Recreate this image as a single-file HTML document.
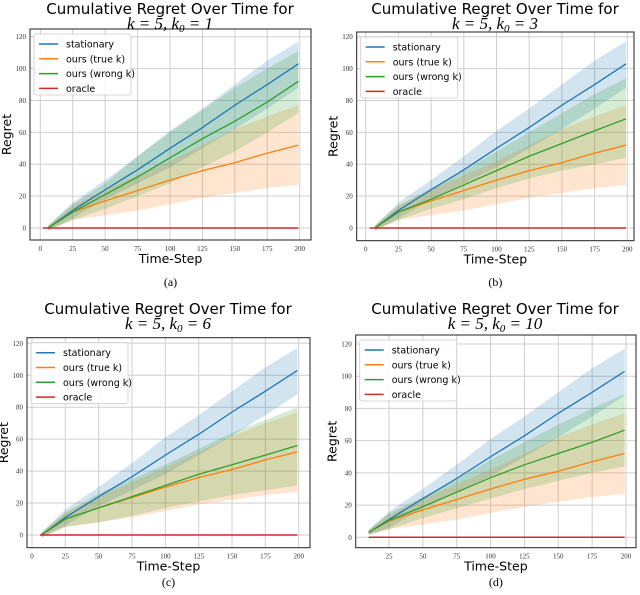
<!DOCTYPE html>
<html><head><meta charset="utf-8">
<style>
body{margin:0;background:#fff;}
svg{display:block;}
.tick{font-family:"Liberation Serif",serif;font-size:7px;fill:#333;}
.ttl{font-family:"DejaVu Sans",sans-serif;font-size:15px;fill:#000;}
.mth{font-family:"Liberation Serif",serif;font-style:italic;font-size:17px;fill:#000;}
.lab{font-family:"DejaVu Sans",sans-serif;font-size:12.5px;fill:#000;}
.leg{font-family:"DejaVu Sans",sans-serif;font-size:9.5px;fill:#000;}
.cap{font-family:"Liberation Serif",serif;font-size:12px;fill:#000;}
</style></head>
<body>
<svg id="fig" width="640" height="595" viewBox="0 0 640 595" xmlns="http://www.w3.org/2000/svg"></svg>
<script>
// ---- data ----
const timeSteps = [25, 50, 75, 100, 125, 150, 175, 199];
const stationaryMean = [11, 24, 36.5, 50, 63, 77, 90, 103];
const stationaryUpper = [16, 30, 45, 61, 75, 90, 105, 117];
const stationaryLower = [6, 18, 28, 38, 50, 62, 75, 88];
const trueKMean = [10, 17, 23.5, 30, 36, 41, 47, 52];
const trueKUpper = [14, 24, 33, 42, 52, 62, 70, 77];
const trueKLower = [5, 8, 11, 15, 19, 22, 25, 27];
const wrongKMeanA = [10, 21, 32, 44, 56, 67, 79, 92];
const wrongKUpperA = [15, 28, 45, 60, 74, 88, 100, 111];
const wrongKLowerA = [5, 12, 20, 28, 38, 48, 60, 72];
const wrongKMeanB = [10, 18, 27, 36, 45, 53, 61, 68.5];
const wrongKUpperB = [14, 25, 36, 48, 60, 72, 84, 94];
const wrongKLowerB = [5, 12, 18, 25, 31, 36, 40, 44];
const wrongKMeanC = [10, 17, 24, 31, 38, 44, 50, 56];
const wrongKUpperC = [14, 26, 35, 44, 54, 64, 72, 80];
const wrongKLowerC = [5, 8, 12, 17, 21, 25, 28, 31];
const wrongKMeanD = [10.5, 19, 28, 37, 45, 52, 59, 66.5];
const wrongKUpperD = [15, 25, 36, 48, 59, 70, 80, 89];
const wrongKLowerD = [5, 12, 18, 24, 30, 35, 40, 44];
const startSteps = [6, 7, 7, 10];
const startValues = [0, 0, 0, 3];
const panelLabels = ["a", "b", "c", "d"];
const k0Values = ["1", "3", "6", "10"];
const xTicks = [0, 25, 50, 75, 100, 125, 150, 175, 200];
const yTicks = [0, 20, 40, 60, 80, 100, 120];
const seriesNames = ["stationary", "ours (true k)", "ours (wrong k)", "oracle"];

// ---- layout ----
const panels = [
 {box:[30,29,311,240], x0:40.3, x200:299.7, y0:228, y120:36.7, redStart:2, cx:170, ty:0},
 {box:[356.7,32,634,240.7], x0:365.7, x200:627.3, y0:228, y120:36.7, redStart:3, cx:495, ty:0},
 {box:[27,337.7,310,547.7], x0:32, x200:298.7, y0:535, y120:343.3, redStart:6, cx:168, ty:300},
 {box:[355.7,335,636,547.7], x0:355.1, x200:626, y0:537.3, y120:344, redStart:10, cx:495, ty:300}
];
const wrongSets = [[wrongKMeanA,wrongKUpperA,wrongKLowerA],[wrongKMeanB,wrongKUpperB,wrongKLowerB],[wrongKMeanC,wrongKUpperC,wrongKLowerC],[wrongKMeanD,wrongKUpperD,wrongKLowerD]];
const colors = ["#1f77b4","#ff7f0e","#2ca02c","#d62728"];
const NS = "http://www.w3.org/2000/svg";
const svg = document.getElementById("fig");
function mk(tag, attrs, parent){const e=document.createElementNS(NS,tag);for(const k in attrs)e.setAttribute(k,attrs[k]);(parent||svg).appendChild(e);return e;}

panels.forEach((p,i)=>{
  const g = mk("g",{});
  
  
  const X = t => p.x0 + (p.x200-p.x0)*t/200;
  const Y = v => p.y0 + (p.y120-p.y0)*v/120;
  const [bl,bt,br,bb] = p.box;
  xTicks.forEach(t=>{ if(i===3 && t===0) return;
    const l=mk("line",{x1:X(t),x2:X(t),y1:bt,y2:bb,stroke:"#cfcfcf","stroke-width":1},g);
    
    
    const tx=mk("text",{x:X(t),y:bb+11,"text-anchor":"middle",class:"tick"},g); tx.textContent=t;
    
    
  });
  yTicks.forEach(v=>{
    const l=mk("line",{x1:bl,x2:br,y1:Y(v),y2:Y(v),stroke:"#cfcfcf","stroke-width":1},g);
    
    
    const tx=mk("text",{x:bl-4,y:Y(v)+2.5,"text-anchor":"end",class:"tick"},g); tx.textContent=v;
    
    
  });
  const series = [[stationaryMean,stationaryUpper,stationaryLower],[trueKMean,trueKUpper,trueKLower],wrongSets[i]];
  const ts=[startSteps[i]].concat(timeSteps);
  series.forEach((s,si)=>{
    const up=[startValues[i]+1.5].concat(s[1]), lo=[startValues[i]-1.5].concat(s[2]);
    let d="M"+ts.map((t,j)=>X(t)+","+Y(up[j])).join(" L");
    d+=" L"+ts.slice().reverse().map((t,j)=>X(t)+","+Y(lo[lo.length-1-j])).join(" L")+"Z";
    const b=mk("path",{d:d,fill:colors[si],"fill-opacity":0.2,stroke:"none"},g);
    
    
  });
  series.forEach((s,si)=>{
    const m=[startValues[i]].concat(s[0]);
    const l=mk("polyline",{points:ts.map((t,j)=>X(t)+","+Y(m[j])).join(" "),fill:"none",stroke:colors[si],"stroke-width":1.3},g);
    
    
  });
  const r=mk("line",{x1:X(p.redStart),x2:X(199),y1:Y(0),y2:Y(0),stroke:colors[3],"stroke-width":1.5},g);
  
  
  const fr=mk("rect",{x:bl,y:bt,width:br-bl,height:bb-bt,fill:"none",stroke:"#222","stroke-width":1},g);
  
  
  const lg=mk("g",{},g);
  
  
  mk("rect",{x:bl+4,y:bt+5,width:97,height:61,fill:"#fff","fill-opacity":0.85,stroke:"#ccc","stroke-width":0.8,rx:2},lg);
  seriesNames.forEach((n,k)=>{
    const yy=bt+15+k*14.8;
    mk("line",{x1:bl+9,x2:bl+28,y1:yy,y2:yy,stroke:colors[k],"stroke-width":1.5},lg);
    const t=mk("text",{x:bl+36,y:yy+3.5,class:"leg"},lg); t.textContent=n;
    
    
  });
  const t1=mk("text",{x:p.cx,y:p.ty+14,"text-anchor":"middle",class:"ttl"},g); t1.textContent="Cumulative Regret Over Time for";
  
  
  const t2=mk("text",{x:p.cx,y:p.ty+29,"text-anchor":"middle",class:"mth"},g);
  t2.innerHTML='k = 5, k<tspan font-size="11" dy="3">0</tspan><tspan dy="-3"> = '+k0Values[i]+'</tspan>';
  
  
  const xl=mk("text",{x:(bl+br)/2,y:bb+23,"text-anchor":"middle",class:"lab"},g); xl.textContent="Time-Step";
  
  
  const yl=mk("text",{x:0,y:0,"text-anchor":"middle",class:"lab",transform:"translate("+(bl-19)+","+((bt+bb)/2)+") rotate(-90)"},g); yl.textContent="Regret";
  
  
  const cp=mk("text",{x:(bl+br)/2,y:p.ty+286,"text-anchor":"middle",class:"cap"},g); cp.textContent="("+panelLabels[i]+")";
  
  
});
</script>
</body></html>
